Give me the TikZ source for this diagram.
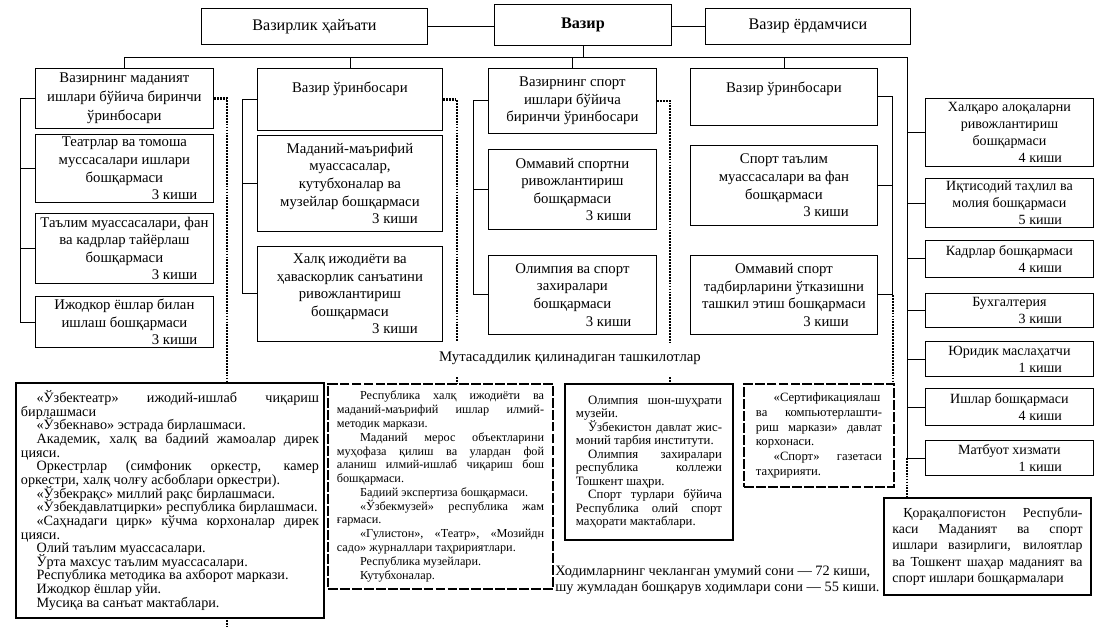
\documentclass[tikz,border=0pt]{standalone}
\usepackage{fontspec}
\setmainfont{Liberation Serif}
\usetikzlibrary{calc}

\newcommand{\kishi}[2][6em]{\\\hspace*{#1}#2 киши}
\newcommand{\orgtext}[3][1.2em]{\parbox{#2}{\tolerance=10000\hyphenpenalty=10000\exhyphenpenalty=10000\lineskiplimit=-10pt\lineskip=0pt\setlength{\parindent}{#1}\indent #3}}

\begin{document}
\begin{tikzpicture}[
    x=0.025cm, y=-0.025cm,
    wh/.style 2 args={minimum width=#1*0.025cm, minimum height=#2*0.025cm},
    topbox/.style={draw, line width=0.6pt, anchor=north west, inner sep=2pt,
        font=\fontsize{11.5}{13}\selectfont},
    unitbox/.style={draw, line width=0.6pt, anchor=north west, inner sep=2pt,
        align=center, font=\fontsize{10.5}{12.5}\selectfont},
    sidebox/.style={unitbox, font=\fontsize{10}{12}\selectfont},
    orgbox/.style={draw, fill=white, line width=1.4pt, anchor=north west, inner sep=0pt},
    orgdash/.style={orgbox, dash pattern=on 7pt off 1.5pt},
    link/.style={line width=0.6pt},
    dotline/.style={line width=1.7pt, dash pattern=on 1.3pt off 0.8pt}
  ]
  \useasboundingbox (0,0) rectangle (1105,629);

  \node[topbox, wh={226}{36}] (council) at (201,8) {Вазирлик ҳайъати};
  \node[topbox, wh={177}{41}, font=\fontsize{11.5}{13}\selectfont\bfseries] (minister) at (494,4) {Вазир};
  \node[topbox, wh={205}{36}] (assistant) at (705,8) {Вазир ёрдамчиси};

  \node[unitbox, wh={178}{60}, font=\fontsize{10.5}{13.5}\selectfont] (culture) at (35,68) {Вазирнинг маданият\\ишлари бўйича биринчи\\ўринбосари};
  \node[unitbox, wh={185}{62}, text height=15pt, text depth=25pt] (deputyone) at (257,68) {Вазир ўринбосари};
  \node[unitbox, wh={168}{65}] (sport) at (488,68) {Вазирнинг спорт\\ишлари бўйича\\биринчи ўринбосари};
  \node[unitbox, wh={187}{57}, text height=15pt, text depth=21.5pt] (deputytwo) at (690,68) {Вазир ўринбосари};

  \node[unitbox, wh={178}{68}] (theatre) at (35,134) {Театрлар ва томоша\\муссасалари ишлари\\бошқармаси\kishi[6.8em]{3}};
  \node[unitbox, wh={178}{70}] (education) at (35,213) {Таълим муассасалари, фан\\ва кадрлар тайёрлаш\\бошқармаси\kishi[6.8em]{3}};
  \node[unitbox, wh={178}{51}] (youth) at (35,296) {Ижодкор ёшлар билан\\ишлаш бошқармаси\kishi[6.8em]{3}};

  \node[unitbox, wh={185}{96}] (enlight) at (257,135) {Маданий-маърифий\\муассасалар,\\кутубхоналар ва\\музейлар бошқармаси\kishi[6.1em]{3}};
  \node[unitbox, wh={185}{95}] (folk) at (257,246) {Халқ ижодиёти ва\\ҳаваскорлик санъатини\\ривожлантириш\\бошқармаси\kishi[6.1em]{3}};

  \node[unitbox, wh={168}{80}] (massport) at (488,149) {Оммавий спортни\\ривожлантириш\\бошқармаси\kishi[4.9em]{3}};
  \node[unitbox, wh={168}{79}] (olymp) at (488,255) {Олимпия ва спорт\\захиралари\\бошқармаси\kishi[4.9em]{3}};

  \node[unitbox, wh={187}{80}] (sportedu) at (690,145) {Спорт таълим\\муассасалари ва фан\\бошқармаси\kishi[5.7em]{3}};
  \node[unitbox, wh={187}{79}] (events) at (690,255) {Оммавий спорт\\тадбирларини ўтказишни\\ташкил этиш бошқармаси\kishi[5.7em]{3}};

  \node[sidebox, wh={168}{68}] (intl) at (925,98) {Халқаро алоқаларни\\ривожлантириш\\бошқармаси\kishi[4.4em]{4}};
  \node[sidebox, wh={168}{48}] (econ) at (925,178) {Иқтисодий таҳлил ва\\молия бошқармаси\kishi[4.4em]{5}};
  \node[sidebox, wh={168}{37}] (staff) at (925,240) {Кадрлар бошқармаси\kishi[4.4em]{4}};
  \node[sidebox, wh={168}{34}] (account) at (925,293) {Бухгалтерия\kishi[4.4em]{3}};
  \node[sidebox, wh={168}{35}] (legal) at (925,341) {Юридик маслаҳатчи\kishi[4.4em]{1}};
  \node[sidebox, wh={168}{37}] (affairs) at (925,388) {Ишлар бошқармаси\kishi[4.4em]{4}};
  \node[sidebox, wh={168}{35}] (press) at (925,440) {Матбуот хизмати\kishi[4.4em]{1}};

  \coordinate (endA) at (227,627);
  \draw[dotline] (culture.east) -| (endA);

  \node[orgbox, wh={308}{235}, font=\fontsize{10.1}{9.7}\selectfont] (orgsA) at (15,382) {\orgtext[1.1em]{7.45cm}{«Ўзбектеатр» ижодий-ишлаб чиқариш\linebreak бирлашмаси\par
    «Ўзбекнаво» эстрада бирлашмаси.\par
    Академик, халқ ва бадиий жамоалар дирек\linebreak цияси.\par
    Оркестрлар (симфоник оркестр, камер\linebreak оркестри, халқ чолғу асбоблари оркестри).\par
    «Ўзбекрақс» миллий рақс бирлашмаси.\par
    «Ўзбекдавлатцирки» республика бирлашмаси.\par
    «Саҳнадаги цирк» кўчма корхоналар дирек\linebreak цияси.\par
    Олий таълим муассасалари.\par
    Ўрта махсус таълим муассасалари.\par
    Республика методика ва ахборот маркази.\par
    Ижодкор ёшлар уйи.\par
    Мусиқа ва санъат мактаблари.}};
  \node[orgdash, wh={225}{205}, font=\fontsize{8.7}{9.8}\selectfont] (orgsB) at (327,383) {\orgtext[1.9em]{5.18cm}{Республика халқ ижодиёти ва\linebreak маданий-маърифий ишлар илмий-\linebreak методик маркази.\par
    Маданий мерос объектларини\linebreak муҳофаза қилиш ва улардан фой\linebreak аланиш илмий-ишлаб чиқариш бош\linebreak бошқармаси.\par
    Бадиий экспертиза бошқармаси.\par
    «Ўзбекмузей» республика жам\linebreak ғармаси.\par
    «Гулистон», «Театр», «Мозийдн\linebreak садо» журналлари таҳририятлари.\par
    Республика музейлари.\par
    Кутубхоналар.}};
  \node[orgbox, wh={168}{156}, font=\fontsize{9.1}{9.6}\selectfont] (orgsC) at (564,383) {\orgtext[0.95em]{3.65cm}{Олимпия шон-шуҳрати\linebreak музейи.\par
    Ўзбекистон давлат жис-\linebreak моний тарбия институти.\par
    Олимпия захиралари\linebreak республика коллежи\linebreak Тошкент шаҳри.\par
    Спорт турлари бўйича\linebreak Республика олий спорт\linebreak маҳорати мактаблари.}};
  \node[orgdash, wh={150}{103}, font=\fontsize{9}{10.4}\selectfont] (orgsD) at (743,383) {\orgtext[1.4em]{3.15cm}{«Сертификациялаш\linebreak ва компьютерлашти-\linebreak риш маркази» давлат\linebreak корхонаси.\par
    «Спорт» газетаси\linebreak таҳририяти.}};
  \node[orgbox, wh={207}{97}, font=\fontsize{9.8}{11.6}\selectfont] (regional) at (883,497) {\orgtext[0.8em]{4.75cm}{Қорақалпоғистон Республи-\linebreak каси Маданият ва спорт\linebreak ишлари вазирлиги, вилоятлар\linebreak ва Тошкент шаҳар маданият ва\linebreak спорт ишлари бошқармалари}};

  \node[font=\fontsize{10.5}{12}\selectfont] (resp) at (570,358) {Мутасаддилик қилинадиган ташкилотлар};
  \node[anchor=north west, align=left, inner sep=0pt, font=\fontsize{10.2}{12}\selectfont] (note) at (555,565) {Ходимларнинг чекланган умумий сони — 72 киши,\\шу жумладан бошқарув ходимлари сони — 55 киши.};

  \coordinate (busR) at (907,57);
  \draw[link] (council.east) -- (council.east -| minister.west);
  \draw[link] (minister.east |- assistant.west) -- (assistant.west);
  \draw[link] (minister.south) -- (minister.south |- busR);
  \draw[link] (culture.north) |- (busR) |- (press.west);
  \foreach \n in {deputyone, sport, deputytwo}
    \draw[link] (\n.north) -- (\n.north |- busR);
  \foreach \n in {intl, econ, staff, account, legal, affairs}
    \draw[link] (\n.west) -- (\n.west -| busR);

  \draw[link] (culture.west) -- ++(-15,0) |- (youth.west);
  \foreach \n in {theatre, education}
    \draw[link] (\n.west) -- ++(-15,0);
  \draw[link] (deputyone.west) -- ++(-15,0) |- (folk.west);
  \draw[link] (enlight.west) -- ++(-15,0);
  \draw[link] (sport.west) -- ++(-15,0) |- (olymp.west);
  \draw[link] (massport.west) -- ++(-15,0);
  \draw[link] (deputytwo.east) -- ++(15,0) |- (events.east);
  \draw[link] (sportedu.east) -- ++(15,0);

  \coordinate (endB) at (457,342);
  \coordinate (topB) at (457,377);
  \coordinate (endC) at (670,342);
  \coordinate (topC) at (670,377);
  \coordinate (tailD) at ([xshift=0.375cm]events.east);
  \draw[dotline] (deputyone.east) -| (endB);
  \draw[dotline] (topB) -- (topB |- orgsB.north);
  \draw[dotline] (sport.east) -| (endC);
  \draw[dotline] (topC) -- (topC |- orgsC.north);
  \draw[dotline] (tailD) -- (tailD |- orgsD.north);
  \draw[dotline] (press.west -| busR) -- (busR |- regional.north);
\end{tikzpicture}
\end{document}
